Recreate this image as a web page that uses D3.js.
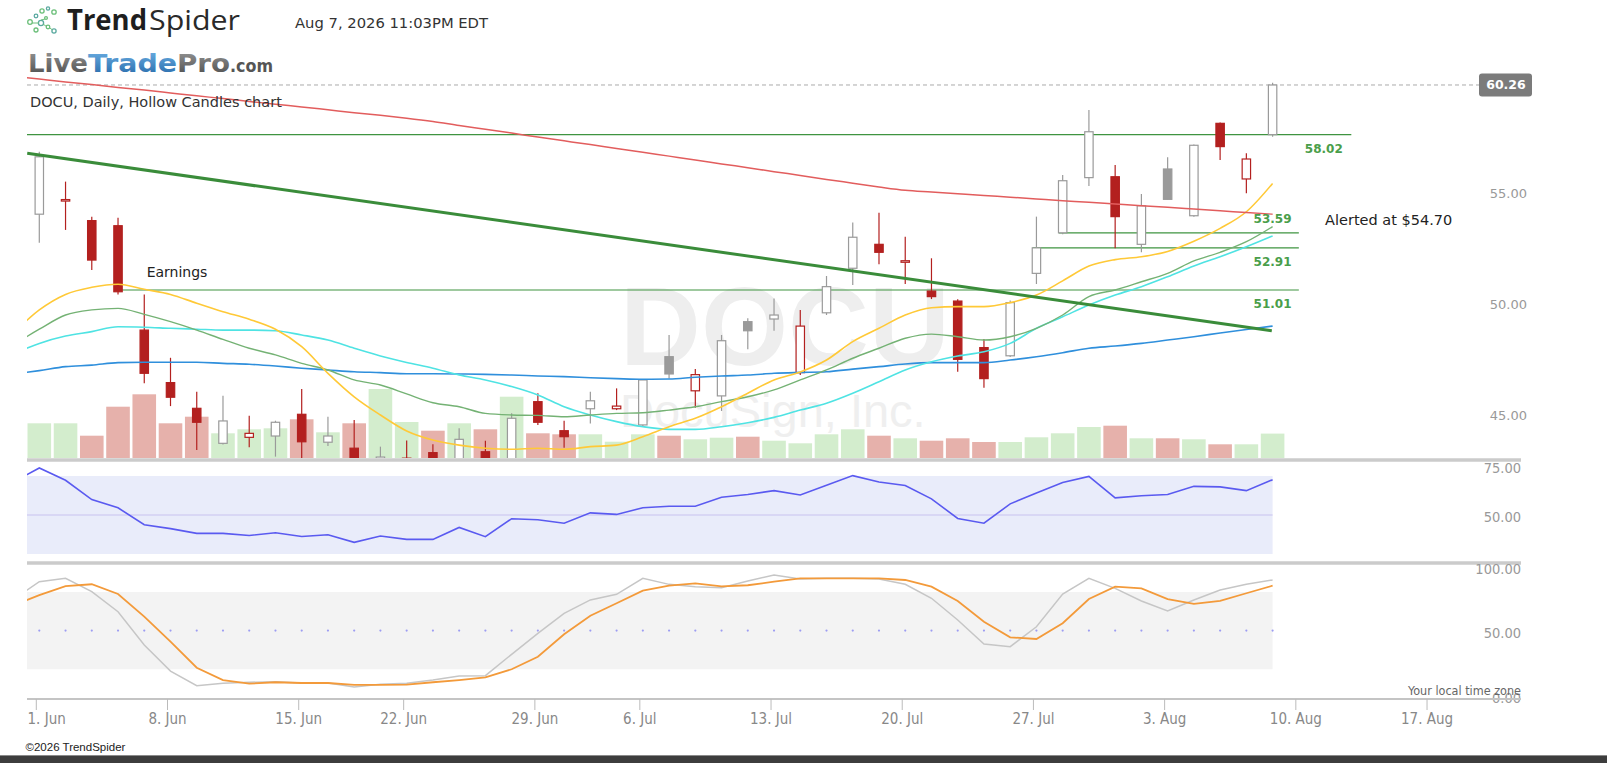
<!DOCTYPE html>
<html><head><meta charset="utf-8">
<script src="https://cdn.jsdelivr.net/npm/d3@7"></script>
<style>
html,body{margin:0;padding:0;background:#fff;overflow:hidden;}
svg{display:block;}
</style></head>
<body>
<svg id="chart" width="1607" height="763"></svg>
<script>
// ---------------- DATA ----------------
const symbol = "DOCU";
const companyName = "DocuSign, Inc.";
const chartTitle = "DOCU, Daily, Hollow Candles chart";
const stampText = "Aug 7, 2026 11:03PM EDT";

const tradingDays = ["2026-06-01","2026-06-02","2026-06-03","2026-06-04","2026-06-05",
  "2026-06-08","2026-06-09","2026-06-10","2026-06-11","2026-06-12",
  "2026-06-15","2026-06-16","2026-06-17","2026-06-18",
  "2026-06-22","2026-06-23","2026-06-24","2026-06-25","2026-06-26",
  "2026-06-29","2026-06-30","2026-07-01","2026-07-02",
  "2026-07-06","2026-07-07","2026-07-08","2026-07-09","2026-07-10",
  "2026-07-13","2026-07-14","2026-07-15","2026-07-16","2026-07-17",
  "2026-07-20","2026-07-21","2026-07-22","2026-07-23","2026-07-24",
  "2026-07-27","2026-07-28","2026-07-29","2026-07-30","2026-07-31",
  "2026-08-03","2026-08-04","2026-08-05","2026-08-06","2026-08-07"];

const prevClose = 56.10;
const openP  = [54.43,55.05,54.14,53.91,49.20,46.83,45.67,44.09,44.36,44.42,45.40,44.14,43.87,43.40,43.36,43.67,43.40,43.71,43.38,45.97,44.66,45.65,45.65,44.92,48.00,46.46,46.23,49.58,49.70,47.28,49.98,51.99,53.07,52.26,50.96,50.51,48.41,48.04,51.76,53.59,56.08,56.12,53.07,56.47,54.36,58.53,56.02,58.02];
const highP  = [57.25,55.90,54.32,54.27,50.81,47.95,46.42,46.24,45.34,45.11,46.54,45.29,45.14,43.94,44.22,44.05,44.77,44.21,45.45,46.35,45.11,46.42,46.57,46.99,48.98,47.44,48.98,49.73,50.63,50.11,51.64,54.05,54.50,53.41,52.44,50.59,48.80,50.53,54.32,56.20,59.13,56.65,55.34,57.00,57.57,58.57,57.18,60.36];
const lowP   = [53.14,53.72,51.91,50.81,46.80,45.77,43.79,44.04,43.91,43.49,43.34,43.97,43.30,43.35,43.20,43.20,43.30,43.20,43.20,44.92,43.89,44.99,45.59,44.84,47.02,45.70,45.55,48.33,49.17,47.17,49.88,51.23,52.17,51.28,50.60,47.32,46.60,47.99,51.28,53.53,55.70,52.89,52.71,55.09,54.32,56.88,55.37,57.93];
const closeP = [57.02,55.09,52.36,50.93,47.25,46.17,45.04,45.10,44.54,45.04,44.16,44.42,43.43,43.47,43.42,43.38,44.27,43.40,45.22,45.04,44.39,46.01,45.77,46.95,47.22,47.19,48.72,49.17,49.88,49.38,51.16,53.39,52.71,52.33,50.71,47.88,47.01,50.44,52.91,55.94,58.15,54.32,54.81,55.10,57.54,57.48,56.92,60.26];
// volume, millions
const volumeM = [3.47,3.47,2.23,5.13,6.37,3.47,4.13,2.47,2.87,2.97,3.87,2.57,3.47,6.90,3.60,2.73,3.47,2.87,6.13,2.47,2.37,2.37,1.63,2.37,2.23,1.87,2.03,2.13,1.73,1.47,2.37,2.87,2.23,1.97,1.73,1.97,1.60,1.60,2.07,2.47,3.10,3.23,1.97,1.97,1.87,1.37,1.37,2.44];

// moving averages: first value is the session before 1 Jun (index -1)
const maRed    = [60.66,60.53,60.40,60.28,60.15,60.03,59.90,59.77,59.65,59.52,59.39,59.27,59.14,59.01,58.89,58.76,58.61,58.43,58.26,58.09,57.91,57.74,57.57,57.39,57.22,57.05,56.88,56.70,56.53,56.35,56.18,56.00,55.83,55.66,55.51,55.43,55.35,55.27,55.20,55.12,55.04,54.97,54.89,54.81,54.74,54.66,54.58,54.51,54.43];
const maYellow = [49.05,50.11,50.81,51.13,51.27,51.04,50.81,50.41,50.03,49.69,49.24,48.45,47.25,46.19,45.37,44.65,44.24,44.01,43.87,43.82,43.87,43.82,43.94,44.01,44.39,44.84,45.22,45.74,46.35,46.95,47.31,47.85,48.68,49.28,49.88,50.21,50.26,50.26,50.44,50.78,51.42,52.09,52.38,52.51,52.75,53.21,53.79,54.54,55.82];
const maGreen  = [48.52,49.24,49.88,50.11,50.18,49.91,49.58,49.20,48.78,48.38,48.08,47.70,47.40,46.95,46.72,46.32,45.92,45.74,45.44,45.37,45.35,45.29,45.37,45.44,45.47,45.59,45.74,45.97,46.19,46.50,46.95,47.40,47.93,48.38,48.83,49.02,48.90,48.75,48.90,49.28,49.88,50.71,51.01,51.38,51.76,52.32,52.71,53.19,53.87];
const maCyan   = [48.12,48.60,48.93,49.13,49.35,49.33,49.28,49.24,49.20,49.20,49.17,48.98,48.75,48.38,48.03,47.74,47.48,47.17,46.95,46.65,46.27,45.74,45.37,45.07,44.84,44.72,44.72,44.84,45.02,45.26,45.59,45.90,46.35,46.87,47.40,47.77,48.03,48.22,48.60,49.28,49.80,50.33,50.78,51.16,51.61,52.09,52.51,52.96,53.45];
const maBlue   = [47.21,47.37,47.55,47.62,47.73,47.75,47.75,47.75,47.70,47.66,47.58,47.48,47.40,47.32,47.28,47.23,47.23,47.22,47.20,47.17,47.13,47.10,47.05,47.01,46.98,46.99,47.07,47.13,47.17,47.25,47.29,47.32,47.44,47.55,47.67,47.73,47.73,47.73,47.85,48.00,48.18,48.38,48.48,48.60,48.75,48.90,49.07,49.23,49.38];

const rsi    = [66.9,74.1,67.8,57.9,53.7,45.0,43.0,40.6,40.6,39.5,40.9,39.0,39.9,36.0,39.2,37.5,37.5,43.6,38.9,48.1,47.6,45.8,51.1,50.3,53.7,54.5,54.5,59.1,60.5,62.5,60.3,65.2,70.2,66.9,65.1,58.3,48.2,45.8,55.7,61.3,66.7,69.8,58.8,59.9,60.5,64.7,64.4,62.5,68.1];
const stochK = [74.1,88.0,90.6,80.2,64.7,38.8,18.6,7.2,9.1,9.9,10.3,9.3,9.3,6.2,8.3,9.1,11.6,14.8,15.0,31.6,47.9,63.4,73.8,78.2,90.6,85.9,84.1,83.3,88.5,93.2,90.0,90.6,90.6,90.1,86.0,75.1,58.2,39.6,37.5,53.0,78.4,90.6,82.8,73.0,65.2,73.8,81.5,86.0,89.3];
const stochD = [69.5,77.6,84.6,86.0,78.4,60.8,41.4,21.2,11.6,8.8,9.9,9.3,9.3,7.8,7.8,8.0,9.9,11.6,13.7,20.0,29.7,47.1,61.6,71.2,81.0,84.9,86.7,84.4,85.2,88.0,90.6,90.6,90.6,90.6,89.3,84.1,73.0,56.9,44.8,43.5,55.7,74.5,84.1,82.8,74.5,70.7,73.0,79.0,84.9];

// trend line (session index, price)
const trendDays   = [-0.46, 46.97];
const trendPrices = [57.18, 49.17];
// horizontal levels
const levelPrices = [58.02, 53.59, 52.91, 51.01];
const levelFrom   = [-1, 38.85, 37.85, 3];
const levelTo     = [50, 48, 48, 48];
const earningsDay = 4;
const alertPrice  = 54.70;
const lastPrice   = 60.26;

const priceTicks = [45, 50, 55];
const rsiTicks   = [50, 75];
const stochTicks = [0, 50, 100];
const tickDays   = [0,5,10,14,19,23,28,33,38,43,48,53];
const tickLabels = ["1. Jun","8. Jun","15. Jun","22. Jun","29. Jun","6. Jul","13. Jul","20. Jul","27. Jul","3. Aug","10. Aug","17. Aug"];

// ---------------- LAYOUT ----------------
const svg = d3.select("#chart");
const L = 27, R = 1522;
const SANS = "'DejaVu Sans', Verdana, sans-serif";
const COND = "'DejaVu Sans Condensed', 'DejaVu Sans', sans-serif";
const N = closeP.length;

const x  = d3.scaleLinear().domain([0, N - 1]).range([39.3, 1272.6]);
const xt = d3.scaleLinear().domain([0, N - 1]).range([35.8, 1269.1]);
const yP = d3.scaleLinear().domain([45, 60]).range([423.16, 90.76]);
const yV = d3.scaleLinear().domain([0, 10]).range([458, 358]);
const yR = d3.scaleLinear().domain([30, 70]).range([554, 476]);
const yS = d3.scaleLinear().domain([0, 100]).range([695, 566.2]);

const defs = svg.append("defs");
function clip(id, y0, y1) {
  defs.append("clipPath").attr("id", id).append("rect")
    .attr("x", L).attr("y", y0).attr("width", R - L).attr("height", y1 - y0);
}
clip("cp", 60, 458); clip("cr", 462, 560); clip("cs", 566, 697);

const gLive = defs.append("linearGradient").attr("id","gLive").attr("x1",0).attr("y1",0).attr("x2",0).attr("y2",1);
gLive.append("stop").attr("offset","0%").attr("stop-color","#9a9a9a");
gLive.append("stop").attr("offset","100%").attr("stop-color","#4a4a4a");
const gTrade = defs.append("linearGradient").attr("id","gTrade").attr("x1",0).attr("y1",0).attr("x2",0).attr("y2",1);
gTrade.append("stop").attr("offset","0%").attr("stop-color","#6fb2e6");
gTrade.append("stop").attr("offset","100%").attr("stop-color","#2568a8");

// ---------------- HEADER ----------------
const icon = svg.append("g").attr("fill","none").attr("stroke-width",1.3);
[[30,22,2.3,"#6cbf7a"],[36,16,1.8,"#5aa9a0"],[42,11,2.1,"#6cbf7a"],[48,8.5,1.6,"#5aa9a0"],[54,12,2.2,"#6cbf7a"],
 [41,23,2.6,"#5aa9a0"],[48,27,1.8,"#6cbf7a"],[54,31,2.1,"#5aa9a0"],[36,30,2,"#6cbf7a"],[46,18,1.4,"#6cbf7a"]]
 .forEach(c => icon.append("circle").attr("cx",c[0]).attr("cy",c[1]).attr("r",c[2]).attr("stroke",c[3]));
icon.append("path").attr("d","M32 23 L39 23 M43 24 L46.5 26.5 M50 28 L52.5 30 M41 20 L45 19").attr("stroke","#6cbf7a").attr("stroke-width",1);

svg.append("text").attr("x",67).attr("y",30).attr("font-family","'Open Sans', Lato, sans-serif")
  .attr("font-size",28).attr("font-weight",700).attr("fill","#1e1e1e")
  .attr("textLength",80).attr("lengthAdjust","spacingAndGlyphs").text("Trend");
svg.append("text").attr("x",149).attr("y",30).attr("font-family","'Open Sans', Lato, sans-serif")
  .attr("font-size",28).attr("font-weight",400).attr("fill","#2a2a2a")
  .attr("textLength",91).attr("lengthAdjust","spacingAndGlyphs").text("Spider");
svg.append("text").attr("x",295).attr("y",27.5).attr("font-family",SANS).attr("font-size",14.5)
  .attr("fill","#333").attr("textLength",193).attr("lengthAdjust","spacingAndGlyphs").text(stampText);

const ltp = [["Live",28,60,"url(#gLive)",25],["Trade",88,89,"url(#gTrade)",25],["Pro",177,53,"url(#gLive)",25],[".com",230,43,"#555",18]];
ltp.forEach(t => svg.append("text").attr("x",t[1]).attr("y",71.5).attr("font-family",SANS)
  .attr("font-weight",900).attr("font-size",t[4]).attr("fill",t[3])
  .attr("textLength",t[2]).attr("lengthAdjust","spacingAndGlyphs").text(t[0]));

// ---------------- PRICE PANEL ----------------
const pg = svg.append("g").attr("clip-path","url(#cp)");
// watermark
pg.append("text").attr("x",620).attr("y",365).attr("font-family","'Liberation Sans', Arial, sans-serif")
  .attr("font-weight",700).attr("font-size",112).attr("fill","#eeeeee").text(symbol);
pg.append("text").attr("x",620).attr("y",426.5).attr("font-family","'Liberation Sans', Arial, sans-serif")
  .attr("font-size",47).attr("fill","#efefef").text(companyName);

// last price dashed line
pg.append("line").attr("x1",L).attr("x2",1479).attr("y1",yP(lastPrice)).attr("y2",yP(lastPrice))
  .attr("stroke","#aaa").attr("stroke-dasharray","4,3").attr("stroke-width",1);

// volume
pg.selectAll("rect.vol").data(volumeM).enter().append("rect").attr("class","vol")
  .attr("x",(d,i)=>x(i)-11.8).attr("width",23.6)
  .attr("y",d=>yV(d)).attr("height",d=>yV(0)-yV(d))
  .attr("fill",(d,i)=> closeP[i] >= openP[i] ? "#d3edcd" : "#e6b1ab");

// horizontal levels
levelPrices.forEach((p,k)=>{
  pg.append("line").attr("x1",x(levelFrom[k])).attr("x2",x(levelTo[k]))
    .attr("y1",yP(p)).attr("y2",yP(p)).attr("stroke","#3f9440").attr("stroke-width",1.2);
});

// candles
const cg = pg.append("g");
closeP.forEach((c,i)=>{
  const o = openP[i], pc = i===0 ? prevClose : closeP[i-1];
  const col = c >= pc ? "#9a9a9a" : "#b3201f";
  const hollow = c >= o;
  cg.append("line").attr("x1",x(i)).attr("x2",x(i)).attr("y1",yP(highP[i])).attr("y2",yP(lowP[i]))
    .attr("stroke",col).attr("stroke-width",1.2);
  const top = yP(Math.max(o,c)), bot = yP(Math.min(o,c));
  cg.append("rect").attr("x",x(i)-4.2).attr("width",8.4)
    .attr("y",top).attr("height",Math.max(1.5,bot-top))
    .attr("fill",hollow ? "#fff" : col).attr("stroke",col).attr("stroke-width",1.2);
});

// moving averages
const lineP = d3.line().x(d=>x(d.i)).y(d=>yP(d.v)).curve(d3.curveMonotoneX);
const withIdx = arr => arr.map((v,k)=>({i:k-1, v}));
[[maBlue,"#2f8fdc",1.6],[maCyan,"#4fe3e3",1.6],[maGreen,"#74b274",1.4],[maYellow,"#ffc937",1.6],[maRed,"#e25d5d",1.5]]
  .forEach(m => pg.append("path").datum(withIdx(m[0])).attr("d",lineP)
     .attr("fill","none").attr("stroke",m[1]).attr("stroke-width",m[2]));

// trend line
pg.append("path").datum(trendDays.map((d,k)=>({i:d, v:trendPrices[k]})))
  .attr("d", d3.line().x(d=>x(d.i)).y(d=>yP(d.v)))
  .attr("stroke","#3a8c3a").attr("stroke-width",3).attr("fill","none");

// level labels
const lvLab = svg.append("g").attr("font-family",SANS).attr("font-weight",700).attr("font-size",12)
  .attr("fill","#4a9e4a").attr("text-anchor","middle");
lvLab.append("text").attr("x",x(48.95)).attr("y",yP(levelPrices[0])+18.5).text(levelPrices[0].toFixed(2));
lvLab.append("text").attr("x",x(47)).attr("y",yP(levelPrices[1])-10).text(levelPrices[1].toFixed(2));
lvLab.append("text").attr("x",x(47)).attr("y",yP(levelPrices[2])+18).text(levelPrices[2].toFixed(2));
lvLab.append("text").attr("x",x(47)).attr("y",yP(levelPrices[3])+18).text(levelPrices[3].toFixed(2));

svg.append("text").attr("x",x(earningsDay)+2.4).attr("y",yP(levelPrices[3])-12.5)
  .attr("font-family",SANS).attr("font-size",14).attr("fill","#222").text("Earnings");
svg.append("text").attr("x",x(49)).attr("y",yP(alertPrice)+17)
  .attr("font-family",SANS).attr("font-size",14.5).attr("fill","#222").text("Alerted at $" + alertPrice.toFixed(2));

svg.append("text").attr("x",30).attr("y",106.5).attr("font-family",SANS).attr("font-size",14.5)
  .attr("fill","#333").text(chartTitle);

// last price box
svg.append("rect").attr("x",1479).attr("y",yP(lastPrice)-11.5).attr("width",53).attr("height",23)
  .attr("rx",3).attr("fill","#7b7b7b");
svg.append("text").attr("x",1506).attr("y",yP(lastPrice)+4.5).attr("text-anchor","middle")
  .attr("font-family",SANS).attr("font-weight",700).attr("font-size",12.5).attr("fill","#fff").text(lastPrice.toFixed(2));

// price axis
const gp = svg.append("g").attr("transform","translate(1527,0)")
  .call(d3.axisLeft(yP).tickValues(priceTicks).tickFormat(d3.format(".2f")).tickSize(0).tickPadding(0));
gp.select(".domain").remove();
gp.selectAll("text").attr("y",-8).attr("fill","#999").attr("font-family",SANS).attr("font-size",13);

// separators
[460, 563].forEach(yy => svg.append("line").attr("x1",L).attr("x2",1521).attr("y1",yy).attr("y2",yy)
  .attr("stroke","#cbcbcb").attr("stroke-width",3.5));

// ---------------- RSI ----------------
const rg = svg.append("g").attr("clip-path","url(#cr)");
rg.append("rect").attr("x",L).attr("width",x(N-1)-L).attr("y",yR(70)).attr("height",yR(30)-yR(70)).attr("fill","#e9ecfa");
rg.append("line").attr("x1",L).attr("x2",x(N-1)).attr("y1",yR(50)).attr("y2",yR(50)).attr("stroke","#c8c2ef").attr("stroke-width",1);
rg.append("path").datum(withIdx(rsi)).attr("d", d3.line().x(d=>x(d.i)).y(d=>yR(d.v)))
  .attr("fill","none").attr("stroke","#5a5af0").attr("stroke-width",1.6);
const gr = svg.append("g").attr("transform","translate(1521,0)")
  .call(d3.axisLeft(yR).tickValues(rsiTicks).tickFormat(d3.format(".2f")).tickSize(0).tickPadding(0));
gr.select(".domain").remove();
gr.selectAll("text").attr("y",1.5).attr("fill","#999").attr("font-family",COND).attr("font-size",14.5);

// ---------------- STOCHASTIC ----------------
const sg = svg.append("g").attr("clip-path","url(#cs)");
sg.append("rect").attr("x",L).attr("width",x(N-1)-L).attr("y",yS(80)).attr("height",yS(20)-yS(80)).attr("fill","#f3f3f3");
sg.selectAll("circle.dot").data(d3.range(N)).enter().append("circle").attr("class","dot")
  .attr("cx",d=>x(d)).attr("cy",yS(50)).attr("r",1.1).attr("fill","#9d9df2");
sg.append("path").datum(withIdx(stochK)).attr("d", d3.line().x(d=>x(d.i)).y(d=>yS(d.v)))
  .attr("fill","none").attr("stroke","#c6c6c6").attr("stroke-width",1.5);
sg.append("path").datum(withIdx(stochD)).attr("d", d3.line().x(d=>x(d.i)).y(d=>yS(d.v)))
  .attr("fill","none").attr("stroke","#f39a3a").attr("stroke-width",1.8);
const gs = svg.append("g").attr("transform","translate(1521,0)")
  .call(d3.axisLeft(yS).tickValues(stochTicks).tickFormat(d3.format(".2f")).tickSize(0).tickPadding(0));
gs.select(".domain").remove();
gs.selectAll("text").attr("y",2.5).attr("fill","#999").attr("font-family",COND).attr("font-size",14.5);

svg.append("text").attr("x",1521).attr("y",695).attr("text-anchor","end").attr("font-family",COND)
  .attr("font-size",12.5).attr("fill","#666").text("Your local time zone");

// ---------------- X AXIS ----------------
svg.append("line").attr("x1",L).attr("x2",1521).attr("y1",699).attr("y2",699).attr("stroke","#c4c4c4").attr("stroke-width",2);
const gx = svg.append("g").attr("transform","translate(0,699)")
  .call(d3.axisBottom(xt).tickValues(tickDays).tickFormat((d,k)=>tickLabels[k]).tickSize(11).tickPadding(3));
gx.select(".domain").remove();
gx.selectAll(".tick line").attr("stroke","#bbb");
gx.selectAll(".tick text").attr("fill","#888").attr("font-family",COND).attr("font-size",15);
gx.selectAll(".tick text").filter(d=>xt(d) - 20 < L).attr("text-anchor","start").attr("x", function(d){ return L - xt(d); });

// footer
svg.append("text").attr("x",25.5).attr("y",750.5).attr("font-family","'Liberation Sans', Arial, sans-serif")
  .attr("font-size",11.5).attr("fill","#222").text("©2026 TrendSpider");
svg.append("line").attr("x1",0).attr("x2",1607).attr("y1",755.5).attr("y2",755.5).attr("stroke","#8a8a8a");
svg.append("rect").attr("x",0).attr("y",756).attr("width",1607).attr("height",7).attr("fill","#3d3d3d");
</script>
</body></html>
